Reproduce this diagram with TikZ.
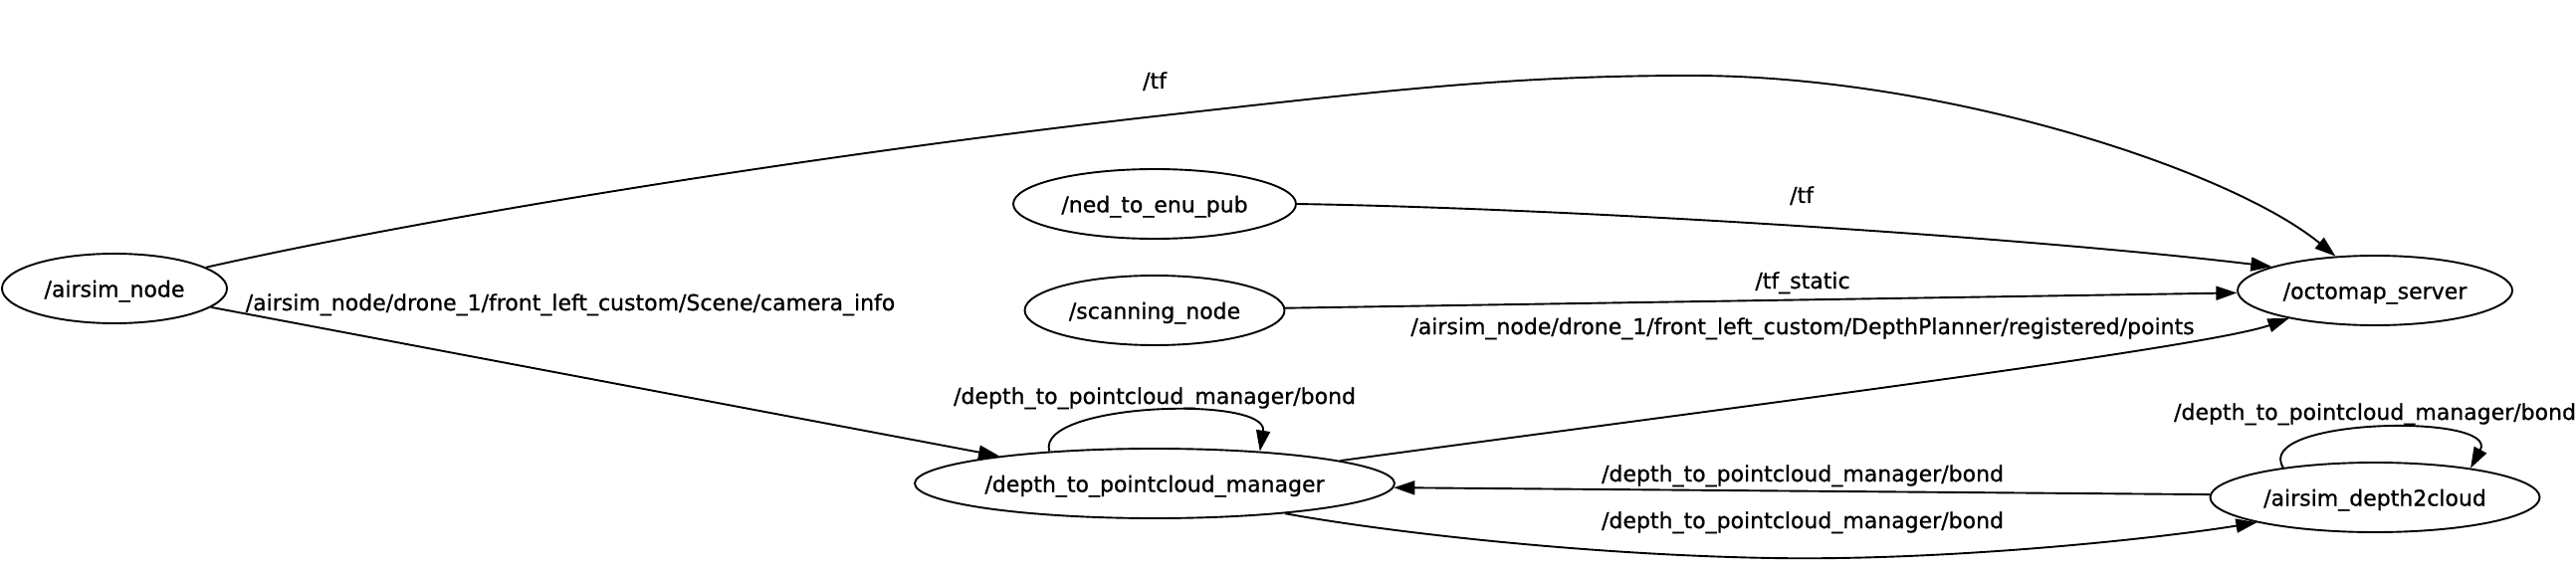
\documentclass[tikz,border=0pt]{standalone}
\usepackage{fontspec}
\setmainfont{DejaVu Sans}[FakeBold=0.8]
\usetikzlibrary{arrows.meta,shapes.geometric}
\begin{document}
\begin{tikzpicture}[x=1pt,y=-1pt,
  rosnode/.style={draw,ellipse,line width=1.9pt,inner sep=0pt,minimum height=70pt,text height=19pt,text depth=2pt,font=\fontsize{22}{26}\selectfont},
  lbl/.style={inner sep=0pt,anchor=base,font=\fontsize{22}{26}\selectfont},
  conn/.style={line width=1.9pt,-{Triangle[length=21pt,width=14pt]}}]
\useasboundingbox (0,0) rectangle (2588,572);
% nodes
\node[rosnode,minimum width=226pt] (airsim) at (115,290) {\makebox[0pt]{/airsim\_node}};
\node[rosnode,minimum width=284pt] (ned) at (1160,205) {\makebox[0pt]{/ned\_to\_enu\_pub}};
\node[rosnode,minimum width=261pt] (scan) at (1160,312) {\makebox[0pt]{/scanning\_node}};
\node[rosnode,minimum width=482pt] (mgr) at (1160,486) {\makebox[0pt]{/depth\_to\_pointcloud\_manager}};
\node[rosnode,minimum width=276pt] (octo) at (2386,292) {\makebox[0pt]{/octomap\_server}};
\node[rosnode,minimum width=331pt] (d2c) at (2386,500) {\makebox[0pt]{/airsim\_depth2cloud}};
% connectors
\draw[conn] (airsim.13) .. controls (450,214) and (850,152) .. (1160,117) .. controls (1400,90) and (1520,76) .. (1700,76) .. controls (1950,76) and (2240,170) .. (octo.139);
\draw[conn] (ned.0) .. controls (1600,210) and (2050,240) .. (octo.167);
\draw[conn] (scan.1) -- (octo.181);
\draw[conn] (mgr.7) .. controls (1700,415) and (2215,350) .. (octo.198);
\draw[conn] (airsim.-11) -- (mgr.170);
\draw[conn] (mgr.163) .. controls (1040,405) and (1275,397) .. (mgr.17);
\draw[conn] (d2c.179) -- (mgr.-1);
\draw[conn] (mgr.-13) .. controls (1400,536) and (1600,558) .. (1780,561) .. controls (1960,564) and (2170,541) .. (d2c.192);
\draw[conn] (d2c.162) .. controls (2262,420) and (2512,415) .. (d2c.17);
% labels
\node[lbl] (l1) at (1160,89) {/tf};
\node[lbl] (l2) at (1810,204) {/tf};
\node[lbl] (l3) at (1811,290) {/tf\_static};
\node[lbl] (l4) at (573,312) {/airsim\_node/drone\_1/front\_left\_custom/Scene/camera\_info};
\node[lbl] (l5) at (1811,336) {/airsim\_node/drone\_1/front\_left\_custom/DepthPlanner/registered/points};
\node[lbl] (l6) at (1160,406) {/depth\_to\_pointcloud\_manager/bond};
\node[lbl] (l7) at (1811,484) {/depth\_to\_pointcloud\_manager/bond};
\node[lbl] (l8) at (1811,531) {/depth\_to\_pointcloud\_manager/bond};
\node[lbl] (l9) at (2386,422) {/depth\_to\_pointcloud\_manager/bond};
\end{tikzpicture}
\end{document}
